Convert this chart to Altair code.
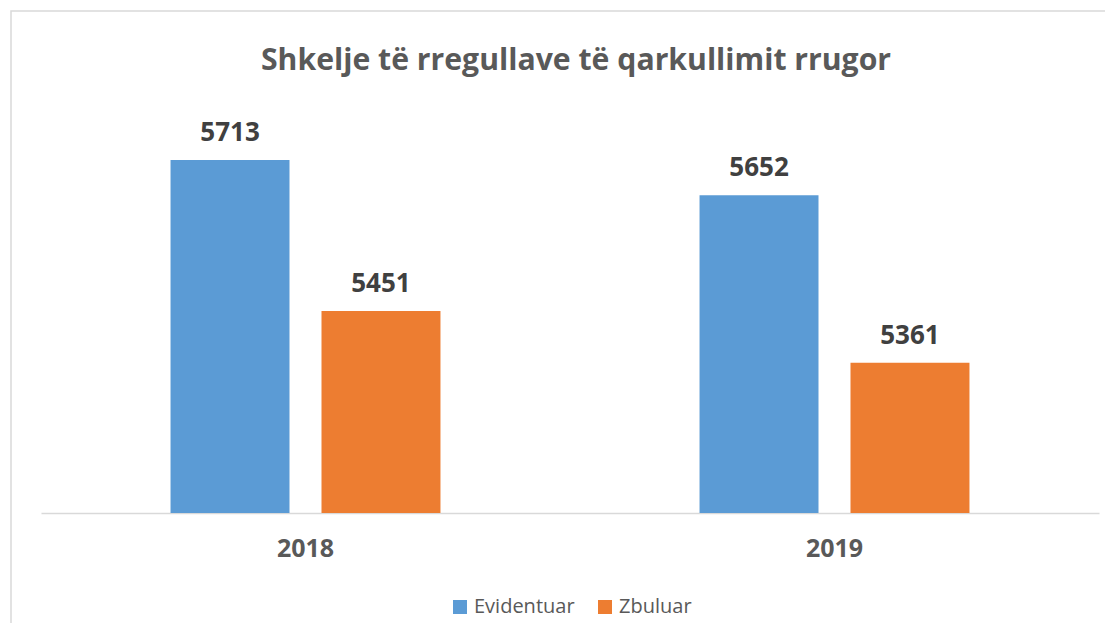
import altair as alt
import pandas as pd

years = ["2018", "2018", "2019", "2019"]
series = ["Evidentuar", "Zbuluar", "Evidentuar", "Zbuluar"]
values = [5713, 5451, 5652, 5361]
series_order = ["Evidentuar", "Zbuluar"]
colors = ["#5B9BD5", "#ED7D31"]
title_text = "Shkelje të rregullave të qarkullimit rrugor"

df = pd.DataFrame({"year": years, "series": series, "value": values})

FONT = "Open Sans"

base = alt.Chart(df).encode(
    x=alt.X("year:N", title=None, scale=alt.Scale(paddingInner=0, paddingOuter=0),
            axis=alt.Axis(labelAngle=0, ticks=False, domainColor="#D9D9D9", domainWidth=1.5,
                          labelFont=FONT, labelFontSize=25, labelFontWeight="bold",
                          labelColor="#595959", labelPadding=23)),
    xOffset=alt.XOffset("series:N", sort=series_order,
                        scale=alt.Scale(paddingInner=0.212, paddingOuter=0.858)),
)

bars = base.mark_bar().encode(
    y=alt.Y("value:Q", title=None,
            scale=alt.Scale(domain=[5100, 5800], zero=False, nice=False, clamp=True),
            axis=None),
    color=alt.Color("series:N", sort=series_order,
                    scale=alt.Scale(domain=series_order, range=colors),
                    legend=alt.Legend(title=None, orient="none", legendX=409, legendY=487,
                                      direction="horizontal", symbolType="square", symbolSize=196,
                                      symbolStrokeWidth=0, labelFont=FONT, labelFontSize=20,
                                      labelColor="#595959", labelOffset=4, columnPadding=20,
                                      padding=0)),
)

labels = base.mark_text(font=FONT, fontSize=26, fontWeight="bold", color="#404040",
                        baseline="alphabetic", dy=-19).encode(
    y=alt.Y("value:Q"),
    text=alt.Text("value:Q", format="d"),
)

frame_df = pd.DataFrame({"a": [0]})
frame = alt.Chart(frame_df).mark_rect(filled=False, stroke="#D9D9D9", strokeWidth=1.5).encode(
    x=alt.value(-30), x2=alt.value(1150), y=alt.value(-99), y2=alt.value(700)
)

chart = alt.layer(frame, bars, labels).properties(
    width=1058, height=403,
    title=alt.Title(title_text, font=FONT, fontSize=30.2, fontWeight="bold", color="#595959",
                    anchor="middle", frame="group", baseline="alphabetic", offset=0,
                    dy=90, dx=6),
    autosize=alt.AutoSizeParams(type="none"),
    padding={"left": 33, "top": 102, "right": 6, "bottom": 110},
).configure(background="white").configure_view(strokeWidth=0, stroke="transparent")

chart.save("out.html", embed_options={"renderer": "svg", "actions": False})
